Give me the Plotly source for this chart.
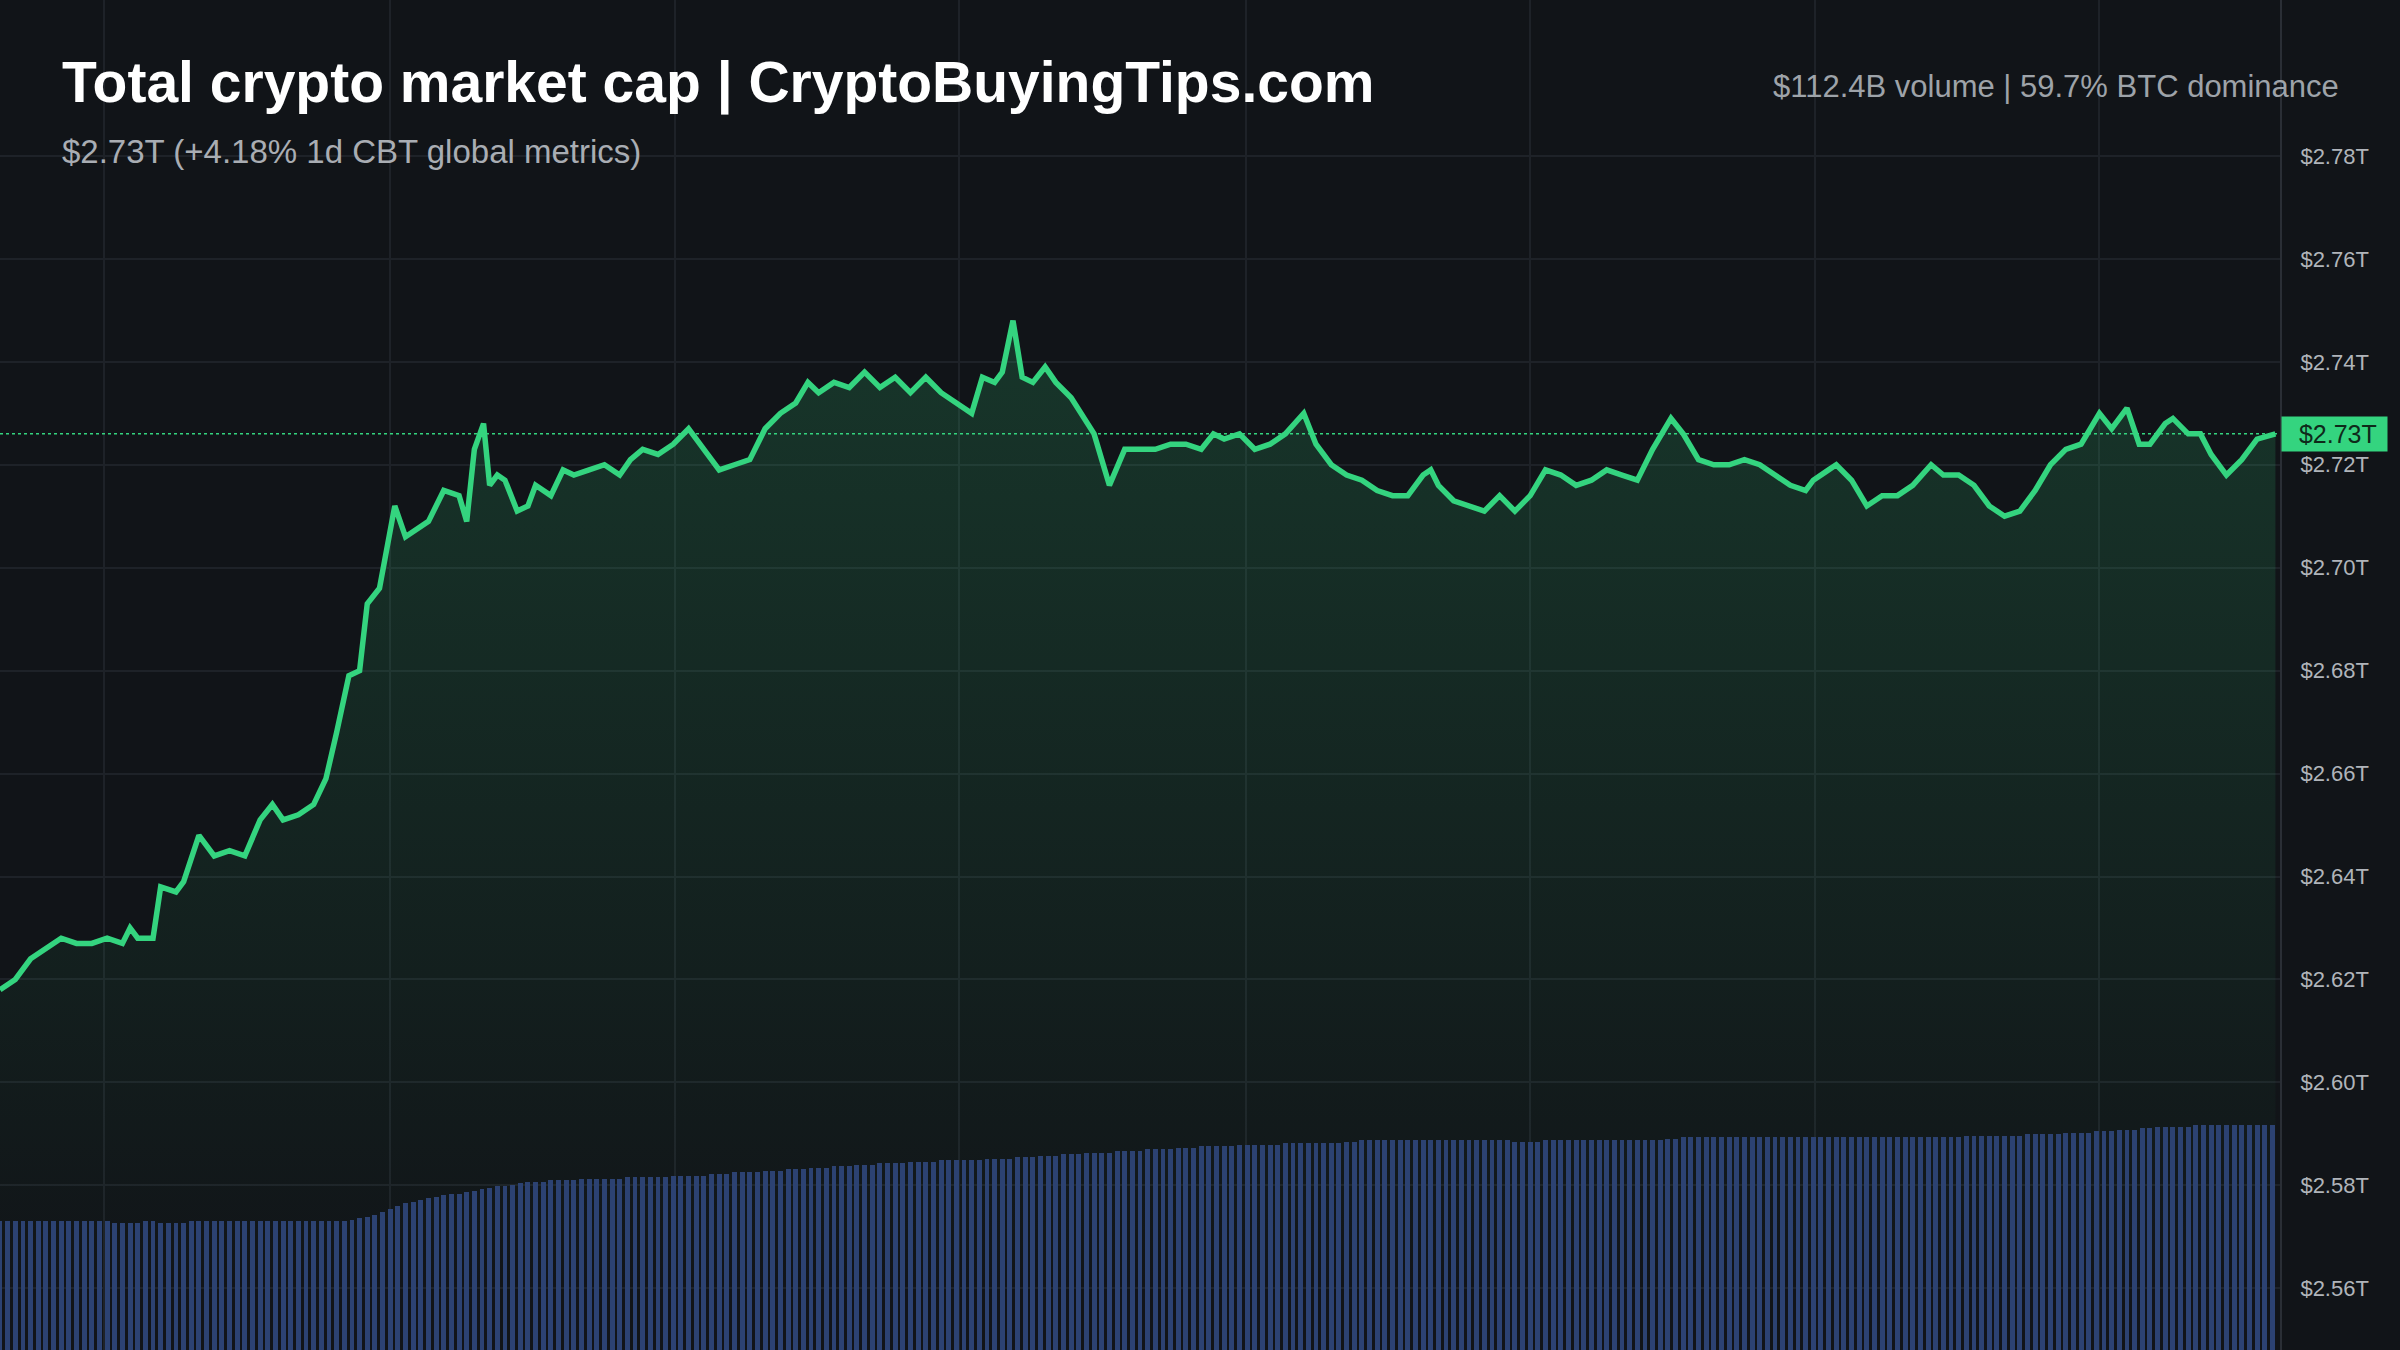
import plotly.graph_objects as go

# time positions (chart units) and market cap values (trillions USD)
t = [0,10,20,30,40,50,60,70,80,85,90,100,105,115,120,130,140,150,160,170,178,185,195,205,213,220,228,235,240,248,
     258,265,275,280,290,300,305,310,316,320,325,330,338,345,350,360,368,375,385,395,405,412,420,430,440,450,460,470,480,490,
     500,510,520,528,535,545,555,565,575,585,595,605,615,625,635,642,650,655,662,668,675,683,690,700,708,715,720,725,735,745,
     755,765,775,785,793,800,810,820,830,840,852,860,870,880,890,900,910,920,930,935,940,950,960,970,980,990,1000,1010,1020,1030,
     1040,1050,1060,1070,1080,1092,1100,1110,1120,1130,1140,1150,1160,1170,1180,1185,1195,1200,1210,1220,1230,1240,1250,1262,1270,1280,1290,1300,1310,1320,
     1330,1340,1350,1360,1372,1380,1390,1398,1405,1415,1420,1430,1438,1445,1455,1465,1475,1487]
cap = [2.618,2.620,2.624,2.626,2.628,2.627,2.627,2.628,2.627,2.630,2.628,2.628,2.638,2.637,2.639,2.648,2.644,2.645,2.644,2.651,2.654,2.651,2.652,2.654,2.659,2.668,2.679,2.680,2.693,2.696,
       2.712,2.706,2.708,2.709,2.715,2.714,2.709,2.723,2.728,2.716,2.718,2.717,2.711,2.712,2.716,2.714,2.719,2.718,2.719,2.720,2.718,2.721,2.723,2.722,2.724,2.727,2.723,2.719,2.720,2.721,
       2.727,2.730,2.732,2.736,2.734,2.736,2.735,2.738,2.735,2.737,2.734,2.737,2.734,2.732,2.730,2.737,2.736,2.738,2.748,2.737,2.736,2.739,2.736,2.733,2.729,2.726,2.721,2.716,2.723,2.723,
       2.723,2.724,2.724,2.723,2.726,2.725,2.726,2.723,2.724,2.726,2.730,2.724,2.720,2.718,2.717,2.715,2.714,2.714,2.718,2.719,2.716,2.713,2.712,2.711,2.714,2.711,2.714,2.719,2.718,2.716,
       2.717,2.719,2.718,2.717,2.723,2.729,2.726,2.721,2.720,2.720,2.721,2.720,2.718,2.716,2.715,2.717,2.719,2.720,2.717,2.712,2.714,2.714,2.716,2.720,2.718,2.718,2.716,2.712,2.710,2.711,
       2.715,2.720,2.723,2.724,2.730,2.727,2.731,2.724,2.724,2.728,2.729,2.726,2.726,2.722,2.718,2.721,2.725,2.726]

# volume bars (relative height units), one bar every 5 chart units
volume = [84,84,84,84,84,84,84,84,84,84,84,84,84,84,84,83,83,83,83,84,
          84,83,83,83,83,84,84,84,84,84,84,84,84,84,84,84,84,84,84,84,
          84,84,84,84,84,84,85,86,87,88,90,92,94,96,97,98,99,100,101,102,
          102,103,104,105,106,107,107,108,109,110,110,110,111,111,111,111,112,112,112,112,
          112,112,113,113,113,113,113,113,114,114,114,114,114,115,115,115,116,116,116,116,
          117,117,117,118,118,118,119,119,119,120,120,120,121,121,121,122,122,122,122,123,
          123,123,123,124,124,124,124,124,124,125,125,125,125,126,126,126,127,127,127,128,
          128,128,129,129,129,129,130,130,130,130,131,131,131,131,132,132,132,133,133,133,
          133,133,134,134,134,134,134,134,135,135,135,135,135,135,135,135,136,136,137,137,
          137,137,137,137,137,137,137,137,137,137,137,137,137,137,137,137,137,137,136,136,
          136,136,137,137,137,137,137,137,137,137,137,137,137,137,137,137,137,137,138,138,
          139,139,139,139,139,139,139,139,139,139,139,139,139,139,139,139,139,139,139,139,
          139,139,139,139,139,139,139,139,139,139,139,139,139,139,139,139,139,140,140,140,
          140,140,140,140,140,141,141,141,141,141,142,142,142,142,143,143,143,144,144,144,
          145,145,146,146,146,146,146,147,147,147,147,147,147,147,147,147,147,147]
vol_t = [i * 5 for i in range(len(volume))]

y_ticks = [2.56,2.58,2.60,2.62,2.64,2.66,2.68,2.70,2.72,2.74,2.76,2.78]
y_labels = ["$%.2fT" % v for v in y_ticks]
x_grid = [68,255,441,627,814,1000,1186,1372]
current = cap[-1]
current_label = "$2.73T"

BG = "#111418"
GREEN = "#34d47f"
FONT = "Liberation Sans"

fig = go.Figure()
fig.add_trace(go.Bar(x=vol_t, y=volume, yaxis="y2", marker=dict(color="#2c4272", line=dict(width=0)),
                     width=3.2, hoverinfo="skip"))
fig.add_trace(go.Scatter(x=t, y=cap, mode="lines", line=dict(color=GREEN, width=5.5),
                         fill="tozeroy",
                         fillgradient=dict(type="vertical", start=2.56, stop=2.75,
                                           colorscale=[[0, "rgba(52,212,127,0.0)"], [1, "rgba(52,212,127,0.18)"]])))
fig.add_shape(type="line", xref="x", yref="y", x0=0, x1=1490, y0=current, y1=current,
              line=dict(color=GREEN, width=1.5, dash="dot"))

fig.update_layout(
    width=2400, height=1350, paper_bgcolor=BG, plot_bgcolor=BG, showlegend=False,
    margin=dict(l=0, r=120, t=0, b=0), bargap=0,
    font=dict(family=FONT, color="#b0b4ba"),
    xaxis=dict(range=[0, 1490], tickvals=x_grid, showticklabels=False, showgrid=True,
               gridcolor="#1e2228", gridwidth=1.5, zeroline=False, showline=False),
    yaxis=dict(range=[2.548, 2.8103], side="right", tickvals=y_ticks, ticktext=y_labels,
               tickfont=dict(size=22, color="#b0b4ba"), showgrid=True, gridcolor="#1e2228",
               gridwidth=1.5, zeroline=False, showline=True, linecolor="#2a2e35", linewidth=2,
               ticks="", ticklabelstandoff=14),
    yaxis2=dict(range=[0, 882], overlaying="y", visible=False),
)

fig.add_annotation(xref="paper", yref="y", x=1.0, y=current, xanchor="left", text="&nbsp;&nbsp;" + current_label + "&nbsp;",
                   showarrow=False, bgcolor=GREEN, font=dict(size=25, color="#0e2a1a"),
                   borderpad=3, xshift=1)
fig.add_annotation(xref="paper", yref="paper", x=0.0, y=0.939, xanchor="left", yanchor="middle",
                   xshift=60, text="<b>Total crypto market cap | CryptoBuyingTips.com</b>",
                   showarrow=False, font=dict(size=57, color="#ffffff"))
fig.add_annotation(xref="paper", yref="paper", x=0.0, y=0.888, xanchor="left", yanchor="middle",
                   xshift=60, text="$2.73T (+4.18% 1d CBT global metrics)",
                   showarrow=False, font=dict(size=33, color="#a9adb3"))
fig.add_annotation(xref="paper", yref="paper", x=1.0, y=0.936, xanchor="right", yanchor="middle",
                   xshift=61, text="$112.4B volume | 59.7% BTC dominance",
                   showarrow=False, font=dict(size=31, color="#9ea3a9"))

fig.write_html("out.html", config={"displayModeBar": False},
               post_script="document.body.style.margin='0';document.body.style.background='#111418';")
